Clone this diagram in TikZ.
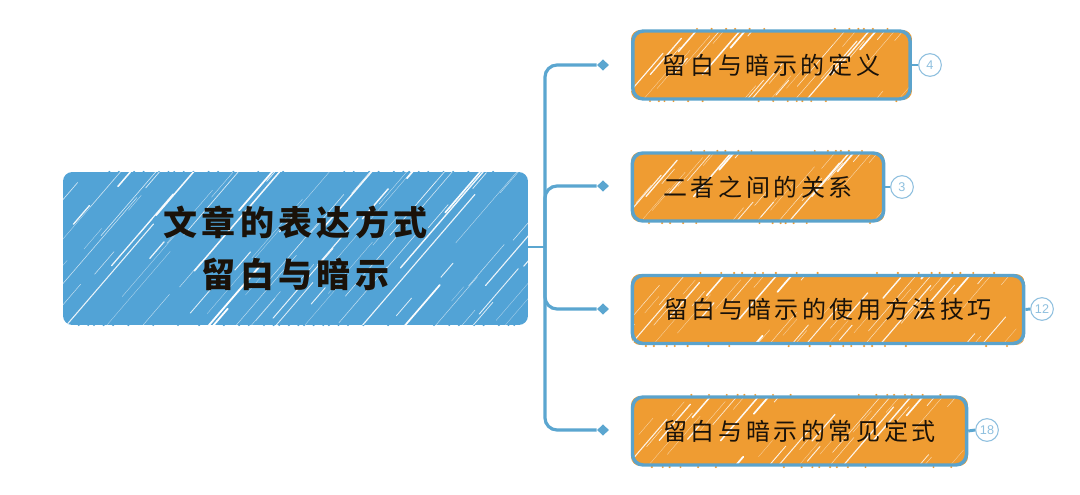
\documentclass[tikz,border=0pt]{standalone}
\usepackage{fontspec}
\usetikzlibrary{shapes.geometric}
\newfontfamily\cjkt[LetterSpace=13]{Noto Sans CJK SC}
\newfontfamily\cjkc[LetterSpace=15]{Noto Sans CJK SC}
\setmainfont{Liberation Sans}
\definecolor{bblue}{HTML}{52A3D6}
\definecolor{lineblue}{HTML}{5BA6D0}
\definecolor{bord}{HTML}{5BA3CC}
\definecolor{orng}{HTML}{EF9C32}
\definecolor{badge}{HTML}{8FC0DF}
\definecolor{ink}{HTML}{1A1209}
% x0,y0,x1,y1,colour,count,maximum stroke length: crayon fill with white strokes
\newcommand{\crayon}[7]{%
  \begin{scope}
    \clip[rounded corners=7pt] (#1,#2) rectangle (#3,#4);
    \fill[#5] (#1,#2) rectangle (#3,#4);
    \foreach \i in {1,...,#6}{
      \pgfmathsetmacro{\ua}{mod(\i*0.61803,1)}
      \pgfmathsetmacro{\ub}{mod(\i*0.75488,1)}
      \pgfmathsetmacro{\uc}{mod(\i*0.56984,1)}
      \pgfmathsetmacro{\ud}{mod(\i*0.41421,1)}
      \pgfmathsetmacro{\hl}{14+\uc*\uc*#7}
      \pgfmathsetmacro{\hx}{#1-30+\ua*(#3-#1+30)}
      \pgfmathsetmacro{\hy}{#2+\ub*(#4-#2+\hl*0.5)+\hl*0.25}
      \pgfmathsetmacro{\hw}{0.3+\ud*\ud*\ud*1.1}
      \pgfmathsetmacro{\ho}{0.45+\ud*0.55}
      \draw[white,line width=\hw pt,opacity=\ho,line cap=round]
        (\hx,\hy) -- ++(0.86*\hl,-\hl);
    }
  \end{scope}}
% x0,x1,ytop,ybot,colour,size,count
\newcommand{\edgeticks}[7]{%
  \foreach \i in {1,...,#7}{
    \pgfmathsetmacro{\ua}{mod(\i*0.61803,1)}
    \pgfmathsetmacro{\ub}{mod(\i*0.75488,1)}
    \pgfmathsetmacro{\tx}{#1+10+\ua*(#2-#1-20)}
    \pgfmathsetmacro{\ty}{\ub<0.45 ? #3 : #4}
    \fill[#5] (\tx,\ty) circle[radius=#6];
  }}
\tikzset{
  x=0.75pt,y=-0.75pt,
  mainbox/.style={inner sep=0pt,text=ink,align=center,
    minimum width=349pt,minimum height=114.5pt,
    font=\fontsize{25.5pt}{39pt}\selectfont\cjkt\bfseries},
  childbox/.style={rounded corners=8pt,draw=bord,line width=2.6pt,inner sep=0pt,
    text=ink,minimum height=51pt,font=\fontsize{18pt}{20pt}\selectfont\cjkc},
  tip/.style={diamond,fill=lineblue,inner sep=0pt,minimum width=9pt,minimum height=8.5pt},
  badgenode/.style={circle,draw=badge,line width=0.8pt,fill=white,inner sep=0pt,minimum size=17pt,
    text=badge,font=\fontsize{9.5pt}{10pt}\selectfont},
  link/.style={lineblue,line width=2.2pt},
  trunk/.style={lineblue,line width=2.4pt,rounded corners=9pt},
}
\begin{document}
\begin{tikzpicture}
\useasboundingbox (0,0) rectangle (1080,495);
\fill[white] (0,0) rectangle (1080,495);
% rough crayon specks around the boxes
\edgeticks{63}{528}{172}{325}{bblue}{0.9pt}{60}
\edgeticks{631}{912}{29}{101}{orng}{0.9pt}{26}
\edgeticks{631}{885}{151}{223}{orng}{0.9pt}{24}
\edgeticks{631}{1025}{273}{346}{orng}{0.9pt}{36}
\edgeticks{631}{968}{395}{467}{orng}{0.9pt}{32}
% crayon fills
\crayon{63}{172}{528}{325}{bblue}{85}{130}
\crayon{631}{30}{912}{100}{orng}{38}{50}
\crayon{631}{152}{885}{222}{orng}{34}{50}
\crayon{631}{274}{1025}{345}{orng}{54}{50}
\crayon{631}{396}{968}{466}{orng}{46}{50}
% nodes
\node[mainbox] (main) at (295.5,248.5) {文章的表达方式\\留白与暗示};
\node[childbox,minimum width=208pt] (c1) at (771.5,65) {留白与暗示的定义};
\node[childbox,minimum width=188.5pt] (c2) at (758,187) {二者之间的关系};
\node[childbox,minimum width=293.5pt] (c3) at (828,309.5) {留白与暗示的使用方法技巧};
\node[childbox,minimum width=250.5pt] (c4) at (799.5,431) {留白与暗示的常见定式};
\node[tip] (d1) at (603,65) {};
\node[tip] (d2) at (603,186) {};
\node[tip] (d3) at (603,309) {};
\node[tip] (d4) at (603,430) {};
\node[badgenode] (b1) at (930,65) {4};
\node[badgenode] (b2) at (902,187) {3};
\node[badgenode] (b3) at (1042,309) {12};
\node[badgenode] (b4) at (987,430) {18};
\coordinate (hub) at (545,247);
% connectors
\draw[link] (main.east |- hub) -- (hub);
\draw[trunk] (hub) |- (d1);
\draw[trunk] (hub) |- (d2);
\draw[trunk] (hub) |- (d3);
\draw[trunk] (hub) |- (d4);
\draw[link] (c1.east) -- (b1.west);
\draw[link] (c2.east) -- (b2.west);
\draw[link] (c3.east) -- (b3.west);
\draw[link] (c4.east) -- (b4.west);
\end{tikzpicture}
\end{document}
